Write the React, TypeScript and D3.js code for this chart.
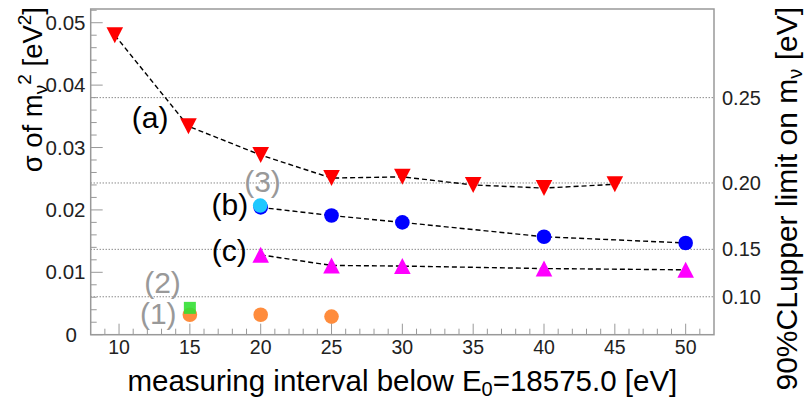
import React from "react";
import * as d3 from "d3";

// ---- data ----
const seriesAX = [9.7, 14.9, 20, 25, 30, 35, 40, 45];
const seriesAY = [0.048, 0.0334, 0.0288, 0.0251, 0.0253, 0.024, 0.0235, 0.0241];
const seriesBX = [20, 25, 30, 40, 50];
const seriesBY = [0.0204, 0.0191, 0.018, 0.0157, 0.0147];
const seriesCX = [20, 25, 30, 40, 50];
const seriesCY = [0.0128, 0.0111, 0.011, 0.0106, 0.0104];
const series1X = [15, 20, 25];
const series1Y = [0.0032, 0.0032, 0.0029];
const series2X = [15];
const series2Y = [0.0043];
const series3X = [20];
const series3Y = [0.0207];

const xTicks = [10, 15, 20, 25, 30, 35, 40, 45, 50];
const yTicks = [0, 0.01, 0.02, 0.03, 0.04, 0.05];
const yTickLabels = ["0", "0.01", "0.02", "0.03", "0.04", "0.05"];
const rightTicks = [0.1, 0.15, 0.2, 0.25];
const rightTickLabels = ["0.10", "0.15", "0.20", "0.25"];
const clFactor = 1.645;

const annotations = [
  { text: "(a)", x: 12.19, y: 0.0332, color: "#000" },
  { text: "(b)", x: 17.83, y: 0.01926, color: "#000" },
  { text: "(c)", x: 17.78, y: 0.0118, color: "#000" },
  { text: "(3)", x: 20.13, y: 0.0229, color: "#999" },
  { text: "(2)", x: 13.07, y: 0.0067, color: "#999" },
  { text: "(1)", x: 12.77, y: 0.0017, color: "#999" },
];

const W = 805;
const H = 402;
const L = 90.7, R = 714, T = 9, B = 334.7;
const FONT = "'Liberation Sans', Arial, Helvetica, sans-serif";

export default function App() {
  const x = d3.scaleLinear().domain([8, 52]).range([L, R]);
  const y = d3.scaleLinear().domain([0, 0.0522]).range([B, T]);
  const line = d3
    .line<[number, number]>()
    .x((d) => x(d[0]))
    .y((d) => y(d[1]));
  const zip = (xs: number[], ys: number[]) => xs.map((v, i) => [v, ys[i]] as [number, number]);

  const minorX = d3.range(9, 52, 1);
  const minorY = d3.range(0, 0.0521, 0.002);

  const triDown = (cx: number, cy: number) =>
    `M${cx - 8.3},${cy - 8}L${cx + 8.3},${cy - 8}L${cx},${cy + 8}Z`;
  const triUp = (cx: number, cy: number) =>
    `M${cx - 8.3},${cy + 8}L${cx + 8.3},${cy + 8}L${cx},${cy - 8}Z`;

  const frameColor = "#999";
  const dash = "5 3";

  return (
    <svg width={W} height={H} style={{ position: "absolute", left: 0, top: 0, background: "#fff" }} fontFamily={FONT}>
      <rect x={0} y={0} width={W} height={H} fill="#fff" />
      {/* right axis dotted lines */}
      {rightTicks.map((m, i) => (
        <g key={"g" + i}>
          <line x1={L} x2={R} y1={y((m * m) / clFactor)} y2={y((m * m) / clFactor)} stroke="#555" strokeWidth={1} strokeDasharray="1 2" />
          <text x={722} y={y((m * m) / clFactor)} dy="0.35em" fontSize={20} fill="#222">
            {rightTickLabels[i]}
          </text>
        </g>
      ))}
      {/* dashed lines */}
      {[zip(seriesAX, seriesAY), zip(seriesBX, seriesBY), zip(seriesCX, seriesCY)].map((s, i) => (
        <path key={"l" + i} d={line(s) || ""} fill="none" stroke="#000" strokeWidth={1.4} strokeDasharray={dash} />
      ))}
      {/* markers */}
      {zip(seriesAX, seriesAY).map((d, i) => (
        <path key={"a" + i} d={triDown(x(d[0]), y(d[1]))} fill="#ff0000" />
      ))}
      {zip(seriesBX, seriesBY).map((d, i) => (
        <circle key={"b" + i} cx={x(d[0])} cy={y(d[1])} r={7.3} fill="#0000ff" />
      ))}
      {zip(seriesCX, seriesCY).map((d, i) => (
        <path key={"c" + i} d={triUp(x(d[0]), y(d[1]))} fill="#ff00ff" />
      ))}
      {zip(series1X, series1Y).map((d, i) => (
        <circle key={"o" + i} cx={x(d[0])} cy={y(d[1])} r={7.3} fill="#ff8c3c" />
      ))}
      {zip(series2X, series2Y).map((d, i) => (
        <rect key={"s" + i} x={x(d[0]) - 6} y={y(d[1]) - 6} width={12} height={12} fill="#33e033" opacity={0.9} />
      ))}
      {zip(series3X, series3Y).map((d, i) => (
        <circle key={"cy" + i} cx={x(d[0]) - 0.5} cy={y(d[1])} r={7.3} fill="#1ec8ff" />
      ))}
      {/* annotations */}
      {annotations.map((a, i) => (
        <text key={"t" + i} x={x(a.x)} y={y(a.y)} textAnchor="middle" fontSize={30} fill={a.color}>
          {a.text}
        </text>
      ))}
      {/* frame */}
      <rect x={L} y={T} width={R - L} height={B - T} fill="none" stroke={frameColor} strokeWidth={1.5} />
      {/* x ticks */}
      {minorX.map((v) => (
        <line key={"mx" + v} x1={x(v)} x2={x(v)} y1={B} y2={B - (v % 5 === 0 ? 11 : 6)} stroke={frameColor} strokeWidth={1} />
      ))}
      {xTicks.map((v) => (
        <text key={"xt" + v} x={x(v)} y={347} dy="0.35em" textAnchor="middle" fontSize={19.5} fill="#222">
          {v}
        </text>
      ))}
      {/* y ticks */}
      {minorY.map((v, i) => (
        <line key={"my" + i} x1={L} x2={L + (i % 5 === 0 ? 12 : 6)} y1={y(v)} y2={y(v)} stroke={frameColor} strokeWidth={1} />
      ))}
      {yTicks.map((v, i) => (
        <text key={"yt" + i} x={i === 0 ? 77 : 85.5} y={y(v)} dy="0.35em" textAnchor="end" fontSize={20.5} fill="#222">
          {yTickLabels[i]}
        </text>
      ))}
      {/* axis titles */}
      <text x={(L + R) / 2} y={391} textAnchor="middle" fontSize={29.5} fill="#000">
        measuring interval below E
        <tspan dy={5} fontSize={20}>0</tspan>
        <tspan dy={-5}>=18575.0 [eV]</tspan>
      </text>
      <text transform={`translate(42,7) rotate(-90)`} textAnchor="end" fontSize={27.5} fill="#000">
        σ of m
        <tspan dy={5} fontSize={19}>ν</tspan>
        <tspan dy={-16} fontSize={19}>2</tspan>
        <tspan dy={11}> [eV</tspan>
        <tspan dy={-11} fontSize={19}>2</tspan>
        <tspan dy={11}>]</tspan>
      </text>
      <text transform={`translate(797,7) rotate(-90)`} textAnchor="end" fontSize={30} fill="#000">
        90%CLupper limit on m
        <tspan dy={5} fontSize={20}>ν</tspan>
        <tspan dy={-5}> [eV]</tspan>
      </text>
    </svg>
  );
}
